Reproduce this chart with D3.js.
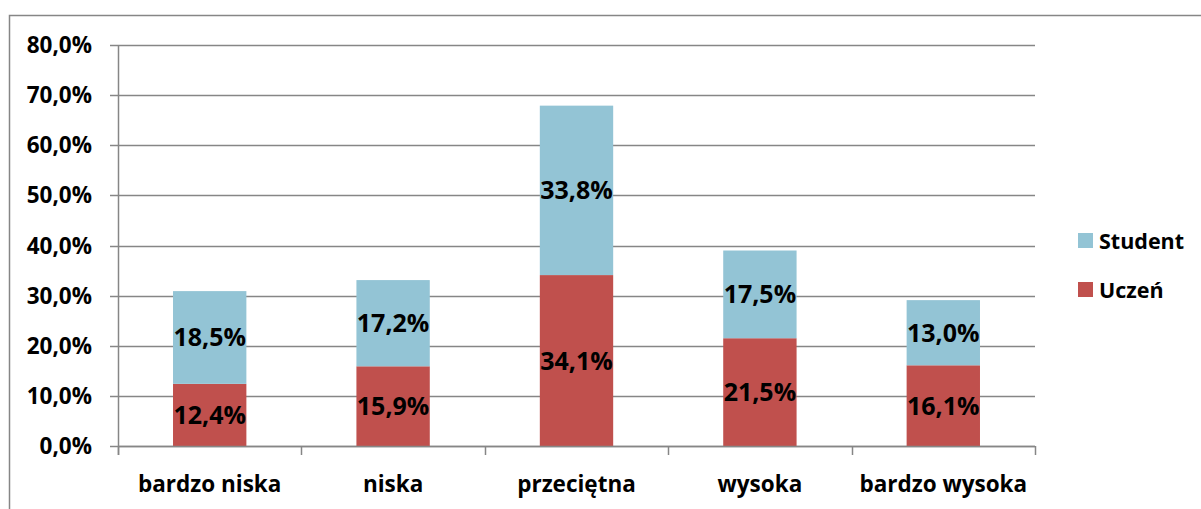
<!DOCTYPE html>
<html>
<head>
<meta charset="utf-8">
<script src="https://cdn.jsdelivr.net/npm/d3@7"></script>
<style>
  html, body { margin: 0; padding: 0; background: #fff; }
  svg text { font-family: "Open Sans", sans-serif; font-weight: 700; fill: #000; }
</style>
</head>
<body>
<div id="chart"></div>
<script>
const categories = ["bardzo niska", "niska", "przeciętna", "wysoka", "bardzo wysoka"];
const seriesNames = ["Uczeń", "Student"];
const uczen = [12.4, 15.9, 34.1, 21.5, 16.1];
const student = [18.5, 17.2, 33.8, 17.5, 13.0];
const yTicks = [0, 10, 20, 30, 40, 50, 60, 70, 80];

const COLORS = { "Uczeń": "#C0504D", "Student": "#93C4D5" };
const GRID = "#868686";

const width = 1201, height = 509;
const plot = { left: 118, right: 1035, top: 45, bottom: 446 };

const locale = d3.formatLocale({ decimal: ",", thousands: " ", grouping: [3], currency: ["", " zł"] });
const fmt = locale.format(".1f");

const svg = d3.select("#chart").append("svg")
  .attr("width", width)
  .attr("height", height);

// outer chart border
svg.append("rect")
  .attr("x", 9.5).attr("y", 15.5)
  .attr("width", 1200).attr("height", 520)
  .attr("fill", "none")
  .attr("stroke", GRID)
  .attr("stroke-width", 1.5);

const x = d3.scaleBand()
  .domain(categories)
  .range([plot.left, plot.right])
  .paddingInner(0.6)
  .paddingOuter(0.3);

const y = d3.scaleLinear()
  .domain([0, 80])
  .range([plot.bottom, plot.top]);

// gridlines
svg.append("g")
  .selectAll("line")
  .data(yTicks)
  .enter()
  .append("line")
  .attr("x1", plot.left - 8)
  .attr("x2", plot.right)
  .attr("y1", d => Math.round(y(d)) + 0.5)
  .attr("y2", d => Math.round(y(d)) + 0.5)
  .attr("stroke", GRID)
  .attr("stroke-width", 1.5);

// y axis labels
svg.append("g")
  .selectAll("text")
  .data(yTicks)
  .enter()
  .append("text")
  .attr("x", 92)
  .attr("y", d => y(d))
  .attr("dy", "0.36em")
  .attr("text-anchor", "end")
  .style("font-size", "22.5px")
  .text(d => fmt(d) + "%");

// stacked data
const table = categories.map((c, i) => ({ category: c, "Uczeń": uczen[i], "Student": student[i] }));
const stacked = d3.stack().keys(seriesNames)(table);

const layers = svg.append("g")
  .selectAll("g")
  .data(stacked)
  .enter()
  .append("g")
  .attr("fill", d => COLORS[d.key]);

layers.selectAll("rect")
  .data(d => d)
  .enter()
  .append("rect")
  .attr("x", d => x(d.data.category))
  .attr("width", x.bandwidth())
  .attr("y", d => y(d[1]))
  .attr("height", d => y(d[0]) - y(d[1]));

// axes lines on top
svg.append("line")
  .attr("x1", plot.left + 0.5).attr("x2", plot.left + 0.5)
  .attr("y1", plot.top).attr("y2", plot.bottom + 9)
  .attr("stroke", GRID).attr("stroke-width", 1.5);

svg.append("line")
  .attr("x1", plot.left).attr("x2", plot.right)
  .attr("y1", plot.bottom + 0.5).attr("y2", plot.bottom + 0.5)
  .attr("stroke", GRID).attr("stroke-width", 1.5);

// category tick marks
const step = (plot.right - plot.left) / categories.length;
svg.append("g")
  .selectAll("line")
  .data(d3.range(categories.length + 1))
  .enter()
  .append("line")
  .attr("x1", i => Math.round(plot.left + i * step) + 0.5)
  .attr("x2", i => Math.round(plot.left + i * step) + 0.5)
  .attr("y1", plot.bottom)
  .attr("y2", plot.bottom + 9)
  .attr("stroke", GRID)
  .attr("stroke-width", 1.5);

// data labels
layers.selectAll("text")
  .data(d => d)
  .enter()
  .append("text")
  .attr("x", d => x(d.data.category) + x.bandwidth() / 2)
  .attr("y", d => (y(d[0]) + y(d[1])) / 2)
  .attr("dy", "0.36em")
  .attr("text-anchor", "middle")
  .style("font-size", "25px")
  .text(d => fmt(d[1] - d[0]) + "%");

// category labels
svg.append("g")
  .selectAll("text")
  .data(categories)
  .enter()
  .append("text")
  .attr("x", d => x(d) + x.bandwidth() / 2)
  .attr("y", 484)
  .attr("dy", "0.36em")
  .attr("text-anchor", "middle")
  .style("font-size", "22.5px")
  .text(d => d);

// legend
const legendItems = ["Student", "Uczeń"];
const legend = svg.append("g")
  .selectAll("g")
  .data(legendItems)
  .enter()
  .append("g")
  .attr("transform", (d, i) => `translate(1078, ${233 + i * 49})`);

legend.append("rect")
  .attr("width", 15)
  .attr("height", 15)
  .attr("fill", d => COLORS[d]);

legend.append("text")
  .attr("x", 21)
  .attr("y", 8)
  .attr("dy", "0.36em")
  .style("font-size", "21.5px")
  .text(d => d);
</script>
</body>
</html>
